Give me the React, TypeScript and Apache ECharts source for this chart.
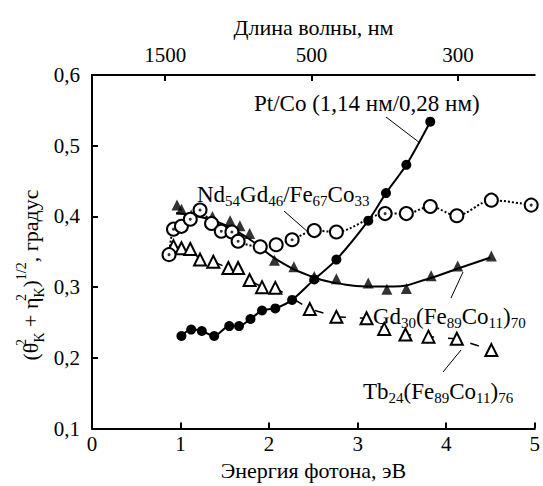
import React, { useEffect, useRef } from "react";
import * as echarts from "echarts";

// Pt/Co (1,14 нм/0,28 нм) — filled circles, solid line
const ptCoE = [1.01, 1.12, 1.24, 1.38, 1.55, 1.66, 1.79, 1.92, 2.07, 2.26, 2.51, 2.76, 3.12, 3.32, 3.55, 3.82];
const ptCoV = [0.231, 0.240, 0.238, 0.231, 0.245, 0.245, 0.255, 0.267, 0.270, 0.282, 0.311, 0.339, 0.394, 0.433, 0.473, 0.534];

// Nd54Gd46/Fe67Co33 — open circles, dotted line
const ndE = [0.87, 0.92, 1.01, 1.11, 1.22, 1.35, 1.46, 1.58, 1.65, 1.90, 2.08, 2.26, 2.51, 2.76, 3.31, 3.55, 3.82, 4.12, 4.51, 4.96];
const ndV = [0.346, 0.382, 0.386, 0.396, 0.409, 0.390, 0.379, 0.378, 0.365, 0.357, 0.360, 0.367, 0.380, 0.378, 0.404, 0.404, 0.414, 0.401, 0.423, 0.416];
const ndDotted = [0, 1, 3, 4, 6, 7, 8, 11, 14, 19];

// Gd30(Fe89Co11)70 — filled triangles, fitted solid curve
const gdE = [0.96, 1.01, 1.12, 1.36, 1.56, 1.67, 1.78, 2.06, 2.28, 2.51, 2.76, 3.12, 3.33, 3.55, 3.83, 4.13, 4.51];
const gdV = [0.416, 0.410, 0.402, 0.400, 0.394, 0.387, 0.376, 0.338, 0.329, 0.315, 0.312, 0.306, 0.297, 0.298, 0.316, 0.330, 0.344];
const gdFitE = [0.95, 1.2, 1.5, 1.8, 2.1, 2.5, 2.8, 3.1, 3.4, 3.8, 4.1, 4.5];
const gdFitV = [0.405, 0.400, 0.388, 0.366, 0.338, 0.314, 0.305, 0.301, 0.301, 0.312, 0.325, 0.342];

// Tb24(Fe89Co11)76 — open triangles, dashed line
const tbE = [0.92, 1.01, 1.11, 1.22, 1.37, 1.54, 1.65, 1.78, 1.92, 2.07, 2.46, 2.76, 3.10, 3.30, 3.54, 3.80, 4.12, 4.51];
const tbV = [0.358, 0.355, 0.354, 0.339, 0.336, 0.327, 0.327, 0.310, 0.300, 0.299, 0.269, 0.258, 0.256, 0.241, 0.233, 0.230, 0.227, 0.211];

// top axis: wavelength (nm), E = 1240 / λ
const wavelengths = [1500, 500, 300];

const FONT = "Liberation Serif";

const zip = (a: number[], b: number[]) => a.map((x, i) => [x, b[i]]);

export default function App() {
  const ref = useRef<HTMLDivElement>(null);
  useEffect(() => {
    if (!ref.current) return;
    const chart = echarts.init(ref.current, null, { renderer: "svg" });
    const wlPos = wavelengths.map((w) => 1240 / w);
    const axisLine = { show: true, lineStyle: { color: "#000", width: 2 } };
    const tickRich = { a: { fontFamily: FONT, fontSize: 21, lineHeight: 24, color: "#000" } };
    const nameRich = { a: { fontFamily: FONT, fontSize: 22, lineHeight: 24, color: "#000" } };
    const subRich = {
      b: { fontFamily: FONT, fontSize: 23, lineHeight: 28, color: "#000" },
      s: { fontFamily: FONT, fontSize: 15, lineHeight: 15, verticalAlign: "bottom", color: "#000" },
    };
    chart.setOption({
      animation: false,
      backgroundColor: "#fff",
      grid: { left: 92, right: 3, top: 75, bottom: 49 },
      xAxis: [
        {
          type: "value",
          min: 0,
          max: 5,
          interval: 1,
          position: "bottom",
          axisLine,
          axisTick: { show: true, inside: true, length: 6, lineStyle: { color: "#000", width: 2 } },
          axisLabel: { margin: 3, formatter: (v: number) => `{a|${v}}`, rich: tickRich },
          splitLine: { show: false },
          name: "{a|Энергия фотона, эВ}",
          nameLocation: "middle",
          nameGap: 25,
          nameTextStyle: { verticalAlign: "top", rich: nameRich },
        },
        {
          type: "value",
          min: 0,
          max: 5,
          position: "top",
          axisLine,
          axisTick: { show: true, inside: true, length: 6, customValues: wlPos, lineStyle: { color: "#000", width: 2 } },
          axisLabel: {
            margin: 8,
            customValues: wlPos,
            formatter: (v: number) => `{a|${Math.round(1240 / v / 100) * 100}}`,
            rich: tickRich,
          },
          splitLine: { show: false },
          name: "{a|Длина волны, нм}",
          nameLocation: "middle",
          nameGap: 36,
          nameTextStyle: { verticalAlign: "bottom", rich: nameRich },
        },
      ],
      yAxis: [
        {
          type: "value",
          min: 0.1,
          max: 0.6,
          interval: 0.1,
          position: "left",
          axisLine,
          axisTick: { show: true, inside: true, length: 6, lineStyle: { color: "#000", width: 2 } },
          axisLabel: { margin: 12, formatter: (v: number) => `{a|${v.toFixed(1).replace(".", ",")}}`, rich: tickRich },
          splitLine: { show: false },
        },
        {
          type: "value",
          min: 0.1,
          max: 0.6,
          position: "right",
          axisLine,
          axisTick: { show: false },
          axisLabel: { show: false },
          splitLine: { show: false },
        },
      ],
      series: [
        {
          type: "line",
          data: zip(tbE, tbV),
          symbol: "triangle",
          symbolSize: 12,
          itemStyle: { color: "#fff", borderColor: "#000", borderWidth: 2 },
          lineStyle: { color: "#000", width: 1.5, type: [9, 14] },
          z: 2,
        },
        {
          type: "line",
          data: zip(gdFitE, gdFitV),
          showSymbol: false,
          smooth: 0.5,
          lineStyle: { color: "#000", width: 2 },
          z: 2,
        },
        {
          type: "scatter",
          data: zip(gdE, gdV),
          symbol: "triangle",
          symbolSize: 11,
          itemStyle: { color: "#000" },
          z: 3,
        },
        {
          type: "line",
          data: zip(ndE, ndV),
          symbol: "circle",
          symbolSize: 13,
          smooth: 0.3,
          itemStyle: { color: "#fff", borderColor: "#000", borderWidth: 2 },
          lineStyle: { color: "#000", width: 2, type: "dotted" },
          z: 4,
        },
        {
          type: "scatter",
          data: ndDotted.map((i) => [ndE[i], ndV[i]]),
          symbol: "circle",
          symbolSize: 3,
          itemStyle: { color: "#000" },
          z: 5,
        },
        {
          type: "line",
          data: zip(ptCoE, ptCoV),
          symbol: "circle",
          symbolSize: 10,
          smooth: 0.3,
          itemStyle: { color: "#000" },
          lineStyle: { color: "#000", width: 2 },
          z: 6,
        },
      ],
      graphic: [
        {
          type: "text",
          x: 30,
          y: 275,
          rotation: Math.PI / 2,
          style: {
            text: "{b|(θ}{p0|2}{s|K}{b| + η}{p0|2}{s|K}{b|)}{p|1/2}{b|, градус}",
            align: "center",
            verticalAlign: "middle",
            rich: {
              b: { fontFamily: FONT, fontSize: 22, lineHeight: 32, color: "#000" },
              p0: { fontFamily: FONT, fontSize: 14, lineHeight: 15, verticalAlign: "top", width: 0, color: "#000" },
              p: { fontFamily: FONT, fontSize: 14, lineHeight: 15, verticalAlign: "top", color: "#000" },
              s: { fontFamily: FONT, fontSize: 14, lineHeight: 15, verticalAlign: "bottom", color: "#000" },
            },
          },
        },
        {
          type: "text",
          x: 254,
          y: 103,
          style: { text: "{b|Pt/Co (1,14 нм/0,28 нм)}", rich: subRich, verticalAlign: "middle" },
        },
        {
          type: "text",
          x: 197,
          y: 194,
          style: { text: "{b|Nd}{s|54}{b|Gd}{s|46}{b|/Fe}{s|67}{b|Co}{s|33}", rich: subRich, verticalAlign: "middle" },
        },
        {
          type: "text",
          x: 373,
          y: 316,
          style: { text: "{b|Gd}{s|30}{b|(Fe}{s|89}{b|Co}{s|11}{b|)}{s|70}", rich: subRich, verticalAlign: "middle" },
        },
        {
          type: "text",
          x: 363,
          y: 391,
          style: { text: "{b|Tb}{s|24}{b|(Fe}{s|89}{b|Co}{s|11}{b|)}{s|76}", rich: subRich, verticalAlign: "middle" },
        },
        { type: "line", shape: { x1: 386, y1: 117, x2: 420, y2: 143 }, style: { stroke: "#000", lineWidth: 1 } },
        { type: "line", shape: { x1: 284, y1: 211, x2: 308, y2: 232 }, style: { stroke: "#000", lineWidth: 1 } },
        { type: "line", shape: { x1: 463, y1: 272, x2: 451, y2: 298 }, style: { stroke: "#000", lineWidth: 1 } },
        { type: "line", shape: { x1: 461, y1: 350, x2: 443, y2: 372 }, style: { stroke: "#000", lineWidth: 1 } },
      ],
    });
    return () => chart.dispose();
  }, []);
  return <div ref={ref} style={{ position: "fixed", left: 0, top: 0, width: 543, height: 486 }} />;
}
